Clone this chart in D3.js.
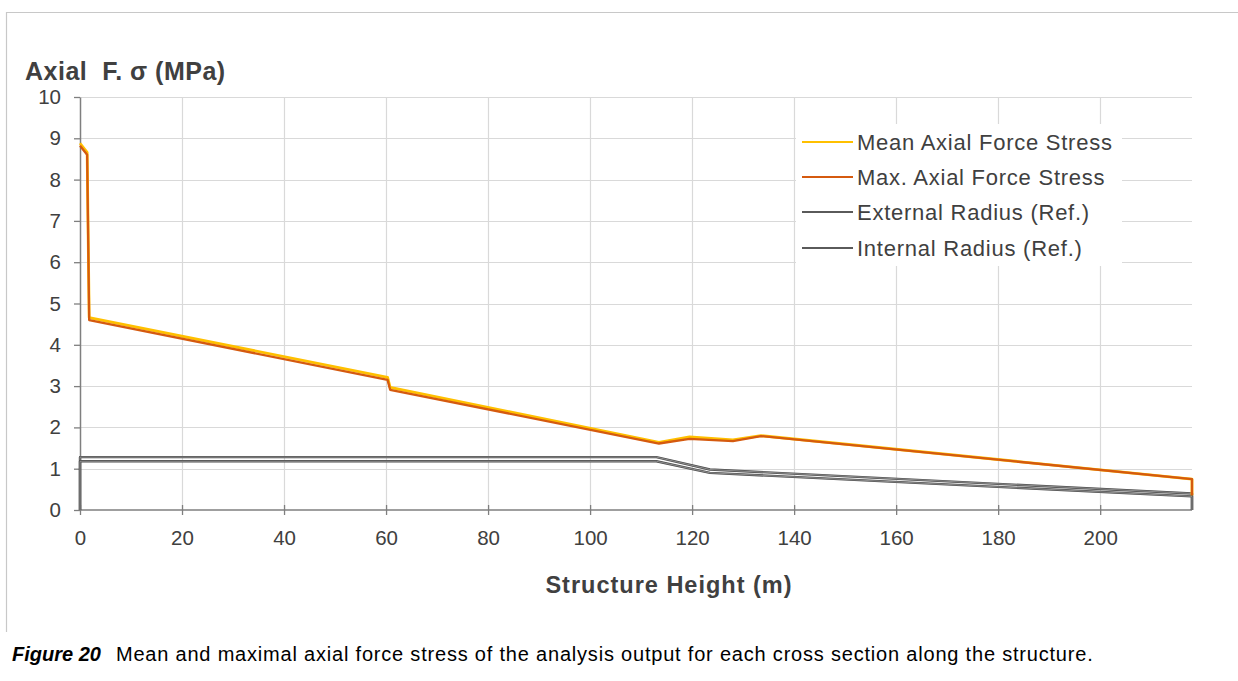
<!DOCTYPE html>
<html><head><meta charset="utf-8">
<script src="https://cdn.jsdelivr.net/npm/d3@7"></script>
<style>
html,body{margin:0;padding:0;background:#fff;}
svg{display:block;font-family:"Liberation Sans",Arial,sans-serif;}
</style></head>
<body>
<svg id="chart" width="1238" height="681"></svg>
<script>
// ---- data ----
const xTicks = [0,20,40,60,80,100,120,140,160,180,200];
const yTicks = [0,1,2,3,4,5,6,7,8,9,10];
const seriesNames = ["Mean Axial Force Stress","Max. Axial Force Stress","External Radius (Ref.)","Internal Radius (Ref.)"];
const seriesColors = ["#FFC000","#D55A0F","#5a5a5a","#5a5a5a"];
const meanX = [0, 1.4, 1.8, 60.3, 60.8, 113.5, 119.5, 128, 133.5, 218, 218];
const meanY = [8.88, 8.66, 4.66, 3.21, 2.97, 1.64, 1.77, 1.70, 1.80, 0.75, 0.36];
const maxX  = [0, 1.4, 1.8, 60.3, 60.8, 113.5, 119.5, 128, 133.5, 218, 218];
const maxY  = [8.82, 8.60, 4.60, 3.15, 2.91, 1.61, 1.72, 1.67, 1.79, 0.75, 0.36];
const extX  = [0, 0, 113, 123.5, 218, 218];
const extY  = [0, 1.28, 1.28, 0.98, 0.40, 0];
const intX  = [0, 0, 113, 123.5, 218, 218];
const intY  = [0, 1.18, 1.18, 0.90, 0.33, 0];

const svg = d3.select("#chart");
const x = d3.scaleLinear().domain([0,218]).range([80,1192]);
const y = d3.scaleLinear().domain([0,10]).range([510,97]);

// frame
svg.append("line").attr("x1",6).attr("x2",1238).attr("y1",12.5).attr("y2",12.5).attr("stroke","#c8c8c8").attr("stroke-width",1.2);
svg.append("line").attr("x1",6.5).attr("x2",6.5).attr("y1",12).attr("y2",632).attr("stroke","#c8c8c8").attr("stroke-width",1.2);

// gridlines
const grid = svg.append("g");
grid.selectAll(".hg").data(yTicks.slice(1)).enter().append("line")
  .attr("x1",x(0)).attr("x2",x(218)).attr("y1",d=>Math.round(y(d))+0.5).attr("y2",d=>Math.round(y(d))+0.5)
  .attr("stroke","#d9d9d9").attr("stroke-width",1.2);
grid.selectAll(".vg").data(xTicks.slice(1)).enter().append("line")
  .attr("y1",y(0)).attr("y2",y(10)).attr("x1",d=>Math.round(x(d))+0.5).attr("x2",d=>Math.round(x(d))+0.5)
  .attr("stroke","#d9d9d9").attr("stroke-width",1.2);

// axes
const xAxis = svg.append("g").attr("transform",`translate(0,${y(0)})`)
  .call(d3.axisBottom(x).tickValues(xTicks).tickSize(5).tickSizeOuter(0).tickPadding(15));
xAxis.selectAll(".tick line").attr("y1",-5).attr("y2",5);
const yAxis = svg.append("g").attr("transform",`translate(${x(0)},0)`)
  .call(d3.axisLeft(y).tickValues(yTicks).tickSize(6).tickSizeOuter(0).tickPadding(13));
[xAxis,yAxis].forEach(a=>{
  a.select(".domain").attr("stroke","#7f7f7f").attr("stroke-width",1.5);
  a.selectAll(".tick line").attr("stroke","#7f7f7f").attr("stroke-width",1.3);
  a.selectAll(".tick text").attr("fill","#404040").style("font-size","20.5px").style("font-family","'Liberation Sans',Arial,sans-serif");
});
xAxis.select(".domain").attr("d",`M${x(0)},0H${x(218)}`);

// lines
const lineGen = d3.line().x(d=>x(d[0])).y(d=>y(d[1]));
function drawGray(xs,ys){
  const pts = xs.map((v,i)=>[v,ys[i]]);
  svg.append("path").datum(pts).attr("d",lineGen).attr("fill","none").attr("stroke","#4d4d4d").attr("stroke-width",2.4).attr("stroke-linejoin","round");
  svg.append("path").datum(pts).attr("d",lineGen).attr("fill","none").attr("stroke","#a0a0a0").attr("stroke-width",0.8).attr("stroke-linejoin","round");
}
drawGray(extX,extY);
drawGray(intX,intY);
const meanPts = meanX.map((v,i)=>[v,meanY[i]]);
const maxPts = maxX.map((v,i)=>[v,maxY[i]]);
svg.append("path").datum(meanPts).attr("d",lineGen).attr("fill","none").attr("stroke",seriesColors[0]).attr("stroke-width",2.8).attr("stroke-linejoin","round");
svg.append("path").datum(maxPts).attr("d",lineGen).attr("fill","none").attr("stroke",seriesColors[1]).attr("stroke-width",2.3).attr("stroke-linejoin","round");

// legend
const lg = svg.append("g");
lg.append("rect").attr("x",796).attr("y",124).attr("width",326).attr("height",142).attr("fill","#fff");
const rowsY = [142,177,212,248];
seriesNames.forEach((n,i)=>{
  lg.append("line").attr("x1",802).attr("x2",853).attr("y1",rowsY[i]).attr("y2",rowsY[i])
    .attr("stroke",seriesColors[i]).attr("stroke-width",2.2);
  lg.append("text").attr("x",857).attr("y",rowsY[i]).attr("dy","0.35em").attr("fill","#404040")
    .style("font-size","22px").style("letter-spacing","0.75px").text(n);
});

// titles
svg.append("text").attr("x",25).attr("y",80).attr("fill","#404040").style("font-size","25px").style("font-weight","bold")
  .style("letter-spacing","0.5px").attr("xml:space","preserve").text("Axial  F. σ (MPa)");
svg.append("text").attr("x",669).attr("y",593).attr("text-anchor","middle").attr("fill","#404040")
  .style("font-size","23.5px").style("font-weight","bold").style("letter-spacing","1px").text("Structure Height (m)");

// caption
const cap = svg.append("text").attr("x",12).attr("y",661).attr("fill","#000").style("font-size","20px").style("letter-spacing","0.8px");
cap.append("tspan").style("font-weight","bold").style("font-style","italic").style("letter-spacing","0px").text("Figure 20");
cap.append("tspan").attr("dx",15).text("Mean and maximal axial force stress of the analysis output for each cross section along the structure.");
</script>
</body></html>
